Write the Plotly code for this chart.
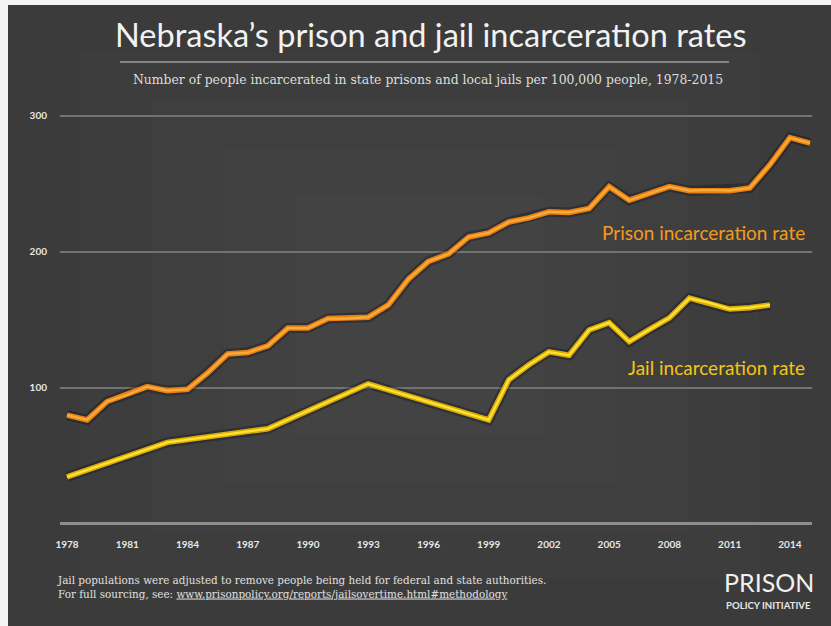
import plotly.graph_objects as go

# ---- data ----
prison_years = list(range(1978, 2016))
prison_rate = [80, 76.5, 90, 95, 101, 98, 99, 111, 125, 126, 131, 144, 144, 151, 151, 152,
               161, 180, 193, 198.5, 211, 214, 222, 225, 229.5, 229, 232, 248, 238, 243, 248,
               245, 245.5, 245, 247, 264, 284, 280]
jail_years = [1978, 1983, 1988, 1993, 1999, 2000, 2001, 2002, 2003, 2004, 2005, 2006, 2007,
              2008, 2009, 2010, 2011, 2012, 2013]
jail_rate = [34.6, 60, 70, 103, 76.5, 106, 117, 126.5, 124, 142.6, 148, 134, 143, 151.5,
             166, 162.5, 158, 159, 161]
x_ticks = [1978, 1981, 1984, 1987, 1990, 1993, 1996, 1999, 2002, 2005, 2008, 2011, 2014]
x_tick_labels = ["1978", "1981", "1984", "1987", "1990", "1993", "1996", "1999", "2002",
                 "2005", "2008", "2011", "2014"]
y_ticks = [100, 200, 300]

W, H = 831, 626
L, R, T, B = 60, 812, 105, 526
pw, ph = R - L, B - T


def px(x):
    return (x - L) / pw


def py(y):
    return (B - y) / ph


BG = "#3b3b3b"
PRISON_OUT, PRISON_IN = "#e9820f", "#fbab3e"
JAIL_OUT, JAIL_IN = "#dcae05", "#ffe233"

fig = go.Figure()


def add_line(x, y, outer, inner):
    fig.add_trace(go.Scatter(x=x, y=y, mode="lines", hoverinfo="skip",
                             line=dict(color="rgba(15,15,35,0.35)", width=10)))
    fig.add_trace(go.Scatter(x=x, y=y, mode="lines", hoverinfo="skip",
                             line=dict(color=outer, width=5.5)))
    fig.add_trace(go.Scatter(x=x, y=y, mode="lines", hoverinfo="skip",
                             line=dict(color=inner, width=2.2)))


add_line(prison_years, prison_rate, PRISON_OUT, PRISON_IN)
add_line(jail_years, jail_rate, JAIL_OUT, JAIL_IN)

shapes = [
    # dark card with a thin white margin on left/top
    dict(type="rect", xref="paper", yref="paper", x0=px(8), x1=px(W + 20), y0=py(H + 20), y1=py(5),
         fillcolor=BG, line=dict(width=0), layer="below"),
]
# subtle vignette
for i, inset in enumerate([60, 120, 180, 240]):
    shapes.append(dict(type="rect", xref="paper", yref="paper",
                       x0=px(8 + inset * 1.2), x1=px(W - inset * 1.2),
                       y0=py(H - inset * 0.8), y1=py(5 + inset * 0.8),
                       fillcolor="rgba(255,255,255,0.012)", line=dict(width=0), layer="below"))
# title rule
shapes.append(dict(type="line", xref="paper", yref="paper", x0=px(120), x1=px(729),
                   y0=py(62), y1=py(62), line=dict(color="#858585", width=2)))

SANS = "Lato, 'Open Sans', sans-serif"
SERIF = "'DejaVu Serif', 'Liberation Serif', serif"

annotations = [
    dict(text="Nebraska’s prison and jail incarceration rates", x=px(430), y=py(35),
         xref="paper", yref="paper", showarrow=False, xanchor="center", yanchor="middle",
         font=dict(family=SANS, size=32.5, color="#f2f2f2")),
    dict(text="Number of people incarcerated in state prisons and local jails per 100,000 people, 1978-2015",
         x=px(428), y=py(79), xref="paper", yref="paper", showarrow=False,
         xanchor="center", yanchor="middle", font=dict(family=SERIF, size=12.4, color="#dedede")),
    dict(text="Prison incarceration rate", x=2014.85, y=214, xref="x", yref="y", showarrow=False,
         xanchor="right", yanchor="middle", font=dict(family=SANS, size=19, color="#f39a22")),
    dict(text="Jail incarceration rate", x=2014.85, y=115, xref="x", yref="y", showarrow=False,
         xanchor="right", yanchor="middle", font=dict(family=SANS, size=19, color="#f2c614")),
    dict(text="Jail populations were adjusted to remove people being held for federal and state authorities.<br>"
              "For full sourcing, see: <u>www.prisonpolicy.org/reports/jailsovertime.html#methodology</u>",
         x=px(55), y=py(586.5), xref="paper", yref="paper", showarrow=False, align="left",
         xanchor="left", yanchor="middle", font=dict(family=SERIF, size=10.4, color="#e0e0e0")),
    dict(text="PRISON", x=px(816), y=py(582), xref="paper", yref="paper", showarrow=False,
         xanchor="right", yanchor="middle", font=dict(family=SANS, size=25, color="#f0f0f0")),
    dict(text="POLICY INITIATIVE", x=px(813), y=py(605), xref="paper", yref="paper", showarrow=False,
         xanchor="right", yanchor="middle", font=dict(family=SANS, size=9.6, color="#e6e6e6", weight=700)),
]

fig.update_layout(
    width=W, height=H,
    margin=dict(l=L, r=W - R, t=T, b=H - B, pad=0),
    paper_bgcolor="#f4f4f4",
    plot_bgcolor="rgba(0,0,0,0)",
    showlegend=False,
    shapes=shapes,
    annotations=annotations,
    xaxis=dict(range=[1977.65, 2015.1], tickvals=x_ticks, ticktext=x_tick_labels,
               showgrid=False, zeroline=False, showline=False,
               ticks="outside", ticklen=9, tickcolor="rgba(0,0,0,0)",
               tickfont=dict(family=SANS, size=10, color="#e8e8e8", weight=700)),
    yaxis=dict(range=[-1.5, 308], tickvals=y_ticks, showgrid=True, gridcolor="#737373", gridwidth=1.5,
               zeroline=True, zerolinecolor="#8e8e8e", zerolinewidth=2.5, showline=False,
               ticks="outside", ticklen=10, tickcolor="rgba(0,0,0,0)",
               tickfont=dict(family=SANS, size=10, color="#e8e8e8", weight=700)),
)

fig.write_html("out.html", config={"displayModeBar": False},
               post_script="document.body.style.margin='0';")
